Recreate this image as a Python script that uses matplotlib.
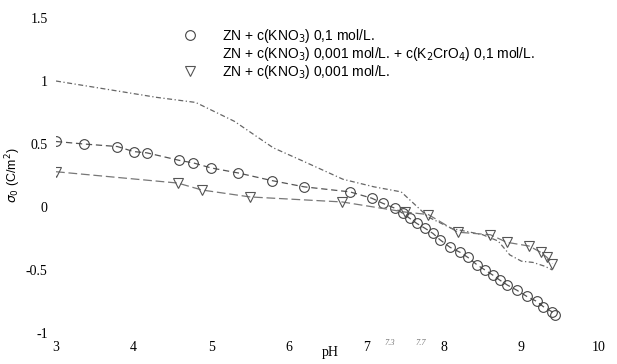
import matplotlib
matplotlib.use('Agg')
import matplotlib.pyplot as plt

# ---- data ----
ph_kno3_01 = [3.0, 3.36, 3.79, 4.0, 4.17, 4.59, 4.77, 5.0, 5.35, 5.78, 6.2, 6.79,
              7.07, 7.21, 7.37, 7.47, 7.56, 7.65, 7.76, 7.86, 7.95, 8.08, 8.21,
              8.31, 8.43, 8.53, 8.63, 8.72, 8.82, 8.94, 9.07, 9.2, 9.28, 9.39, 9.43]
s0_kno3_01 = [0.52, 0.50, 0.48, 0.44, 0.43, 0.37, 0.35, 0.31, 0.27, 0.21, 0.16, 0.12,
              0.07, 0.03, -0.01, -0.05, -0.09, -0.13, -0.17, -0.21, -0.26, -0.32, -0.36,
              -0.40, -0.46, -0.50, -0.54, -0.58, -0.62, -0.66, -0.71, -0.75, -0.79, -0.83, -0.86]

ph_chromate = [3.0, 3.5, 4.3, 4.8, 5.3, 5.8, 6.2, 6.7, 7.1, 7.45, 7.8, 8.1, 8.5,
               8.7, 8.85, 9.0, 9.15, 9.3, 9.4]
s0_chromate = [1.0, 0.95, 0.87, 0.83, 0.68, 0.47, 0.36, 0.22, 0.16, 0.12, -0.08, -0.17,
               -0.22, -0.27, -0.38, -0.43, -0.44, -0.47, -0.50]

ph_kno3_0001 = [3.0, 4.57, 4.88, 5.5, 6.69, 7.5, 7.8, 8.18, 8.6, 8.81, 9.1, 9.25, 9.33, 9.4]
s0_kno3_0001 = [0.28, 0.19, 0.135, 0.08, 0.04, -0.04, -0.06, -0.2, -0.22, -0.28, -0.31,
                -0.36, -0.40, -0.45]

labels = ['ZN + c(KNO$_3$) 0,1 mol/L.',
          'ZN + c(KNO$_3$) 0,001 mol/L. + c(K$_2$CrO$_4$) 0,1 mol/L.',
          'ZN + c(KNO$_3$) 0,001 mol/L.']

xticks = [3, 4, 5, 6, 7, 8, 9, 10]
yticks = [-1, -0.5, 0, 0.5, 1, 1.5]
ytick_labels = ['-1', '-0.5', '0', '0.5', '1', '1.5']
extra_x = [7.3, 7.7]

fig = plt.figure(figsize=(6.17, 3.64), dpi=100)
ax = fig.add_axes([0.0908, 0.0852, 0.88, 0.8653])

ax.plot(ph_kno3_01, s0_kno3_01, linestyle=(0, (5, 3)), color='#555555', lw=0.9,
        marker='o', ms=7, mfc='none', mec='#444444', mew=0.8, label=labels[0])
ax.plot(ph_chromate, s0_chromate, linestyle=(0, (4, 2, 1, 2)), color='#666666', lw=0.9,
        label=labels[1])
ax.plot(ph_kno3_0001, s0_kno3_0001, linestyle=(0, (7, 3)), color='#777777', lw=0.9,
        marker='v', ms=7, mfc='none', mec='#555555', mew=0.8, label=labels[2])

ax.set_xlim(3, 10)
ax.set_ylim(-1, 1.5)
ax.set_xticks(xticks)
ax.set_xticklabels([str(t) for t in xticks], family='Liberation Serif', fontsize=10)
ax.set_yticks(yticks)
ax.set_yticklabels(ytick_labels, family='Liberation Serif', fontsize=10)
ax.tick_params(length=0, pad=6)
for s in ax.spines.values():
    s.set_visible(False)

# small extra tick labels near pH 7.3 / 7.7
for xv in extra_x:
    ax.text(xv, -1.045, str(xv), ha='center', va='top', fontsize=6,
            color='#777777', family='Liberation Serif', style='italic')

ax.text(-0.079, 0.5, r'$\sigma_0$ (C/m$^2$)', transform=ax.transAxes, rotation=90,
        ha='center', va='center', fontsize=9, family='Liberation Sans')
ax.text(0.505, -0.062, 'pH', transform=ax.transAxes, ha='center', va='center',
        fontsize=10, family='Liberation Serif')

leg = ax.legend(loc='upper left', bbox_to_anchor=(0.232, 0.972), frameon=False,
                prop={'family': 'Liberation Sans', 'size': 10},
                borderaxespad=0, borderpad=0,
                handlelength=1.2, handletextpad=1.65, labelspacing=0.0)
for h in leg.legend_handles:
    h.set_linestyle('none')

fig.savefig('out.png', dpi=100)
